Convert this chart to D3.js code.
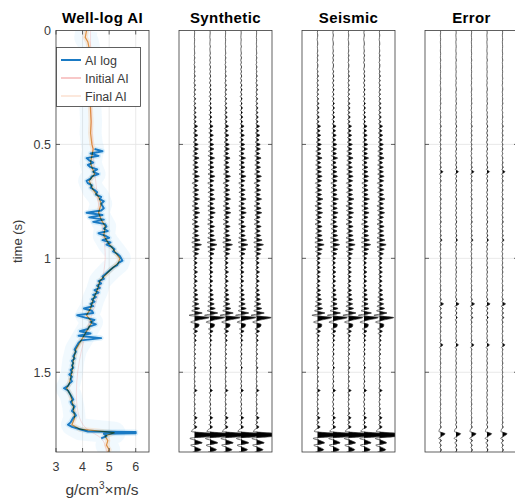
<!DOCTYPE html>
<html>
<head>
<meta charset="utf-8">
<script src="https://cdn.jsdelivr.net/npm/d3@7"></script>
<style>
  body { margin: 0; background: #fff; }
  text { font-family: "Liberation Sans", Arial, sans-serif; }
</style>
</head>
<body>
<div id="vis"></div>
<script>
const panelTitles = ["Well-log AI", "Synthetic", "Seismic", "Error"];
const timeTicks = [0, 0.5, 1, 1.5];
const aiTicks = [3, 4, 5, 6];
const traceOffsets = [1, 2, 3, 4, 5];
const legendLabels = ["AI log", "Initial AI", "Final AI"];
const sampleInterval = 0.01; // s, seismic traces

// well log impedance [time (s), AI]
const aiLog = [
  [0.52, 4.45], [0.53, 4.75], [0.54, 4.3], [0.55, 4.6], [0.56, 4.15], [0.57, 4.25], [0.58, 4.4], [0.59, 4.2],
  [0.60, 4.3], [0.61, 4.55], [0.62, 4.4], [0.63, 4.6], [0.64, 4.35], [0.65, 4.3], [0.66, 4.15], [0.67, 4.2],
  [0.68, 4.35], [0.69, 4.3], [0.70, 4.45], [0.71, 4.55], [0.72, 4.5], [0.73, 4.7], [0.74, 4.65], [0.75, 4.8],
  [0.76, 4.7], [0.77, 4.75], [0.78, 4.8], [0.79, 4.7], [0.80, 4.15], [0.81, 4.75], [0.82, 4.25], [0.83, 4.8],
  [0.84, 4.4], [0.85, 4.85], [0.86, 4.9], [0.87, 4.8], [0.88, 4.95], [0.89, 4.6], [0.90, 4.85], [0.91, 5.0],
  [0.92, 4.75], [0.93, 5.05], [0.94, 4.9], [0.95, 5.1], [0.96, 5.2], [0.97, 5.15], [0.98, 5.3], [0.99, 5.4],
  [1.00, 5.45], [1.01, 5.5], [1.02, 5.35], [1.03, 5.3], [1.04, 5.15], [1.05, 5.05], [1.06, 4.95], [1.07, 4.85],
  [1.08, 4.75], [1.09, 4.8], [1.10, 4.6], [1.11, 4.7], [1.12, 4.55], [1.13, 4.65], [1.14, 4.45], [1.15, 4.6],
  [1.16, 4.4], [1.17, 4.5], [1.18, 4.35], [1.19, 4.45], [1.20, 4.3], [1.21, 4.4], [1.22, 4.05], [1.23, 4.35],
  [1.24, 4.4], [1.25, 3.8], [1.26, 4.1], [1.27, 4.45], [1.28, 4.3], [1.29, 4.5], [1.30, 4.25], [1.31, 4.2],
  [1.32, 3.9], [1.33, 4.3], [1.34, 3.85], [1.35, 4.7], [1.36, 3.95], [1.37, 3.85], [1.38, 3.8], [1.39, 3.75],
  [1.40, 3.7], [1.41, 3.75], [1.42, 3.7], [1.43, 3.65], [1.44, 3.7], [1.45, 3.6], [1.46, 3.65], [1.47, 3.6],
  [1.48, 3.65], [1.49, 3.55], [1.50, 3.6], [1.51, 3.5], [1.52, 3.6], [1.53, 3.55], [1.54, 3.6], [1.55, 3.5],
  [1.56, 3.45], [1.57, 3.3], [1.58, 3.45], [1.59, 3.5], [1.60, 3.55], [1.61, 3.6], [1.62, 3.65], [1.63, 3.55],
  [1.64, 3.6], [1.65, 3.7], [1.66, 3.65], [1.67, 3.6], [1.68, 3.7], [1.69, 3.75], [1.70, 3.65], [1.71, 3.6],
  [1.72, 3.55], [1.73, 3.45], [1.74, 3.6], [1.75, 3.9], [1.76, 4.2], [1.762, 6.0], [1.768, 6.0], [1.77, 4.8],
  [1.78, 4.9], [1.79, 4.7]
];

const initialAI = [
  [0.0, 4.3], [0.25, 4.3], [0.5, 4.35], [0.8, 4.6], [1.0, 5.0], [1.2, 4.5], [1.4, 3.9],
  [1.6, 3.7], [1.75, 3.9], [1.78, 4.8], [1.85, 4.9]
];

const finalAI = [
  [0.0, 4.15], [0.03, 4.1], [0.05, 4.2], [0.08, 4.25], [0.10, 4.2], [0.15, 4.25], [0.20, 4.3],
  [0.25, 4.3], [0.30, 4.28], [0.35, 4.3], [0.40, 4.32], [0.45, 4.3], [0.50, 4.35], [0.52, 4.4],
  [0.55, 4.35], [0.58, 4.3], [0.60, 4.35], [0.63, 4.45], [0.66, 4.25], [0.70, 4.4], [0.73, 4.6],
  [0.76, 4.7], [0.80, 4.6], [0.83, 4.7], [0.86, 4.85], [0.90, 4.8], [0.93, 4.95], [0.96, 5.15],
  [1.00, 5.4], [1.02, 5.35], [1.05, 5.05], [1.08, 4.8], [1.10, 4.65], [1.14, 4.55], [1.18, 4.4],
  [1.22, 4.3], [1.25, 4.15], [1.28, 4.35], [1.30, 4.25], [1.33, 4.1], [1.36, 3.95], [1.40, 3.75],
  [1.45, 3.65], [1.50, 3.6], [1.55, 3.5], [1.57, 3.4], [1.60, 3.55], [1.65, 3.65], [1.70, 3.7],
  [1.73, 3.6], [1.75, 3.9], [1.765, 5.2], [1.78, 4.85], [1.80, 4.95], [1.82, 4.9], [1.84, 5.0], [1.85, 4.95]
];

// trace amplitudes, one sample every 0.01 s from 0 s (units of trace spacing)
const synthetic = [
  0, 0.01, 0, -0.01, 0.01, 0, -0.01, 0.02, -0.01, 0,
  0.02, -0.02, 0.03, -0.02, 0.02, -0.03, 0.04, -0.02, 0.03, -0.02,
  0.05, -0.03, 0.04, -0.04, 0.06, -0.03, 0.07, -0.04, 0.05, -0.05,
  0.08, -0.04, 0.07, -0.05, 0.1, -0.04, 0.09, -0.06, 0.12, -0.05,
  0.1, -0.05, 0.2, -0.07, 0.15, -0.08, 0.22, -0.06, 0.16, -0.09,
  0.24, -0.08, 0.25, -0.1, 0.2, -0.12, 0.3, -0.09, 0.21, -0.11,
  0.26, -0.1, 0.22, -0.13, 0.32, -0.08, 0.25, -0.15, 0.2, -0.1,
  0.28, -0.12, 0.24, -0.09, 0.33, -0.11, 0.22, -0.15, 0.3, -0.12,
  0.34, -0.1, 0.24, -0.14, 0.2, -0.15, 0.3, -0.1, 0.24, -0.12,
  0.28, -0.15, 0.36, -0.18, 0.45, -0.15, 0.32, -0.12, 0.26, -0.08,
  0.16, -0.06, 0.18, -0.05, 0.14, -0.07, 0.2, -0.05, 0.13, -0.06,
  0.19, -0.05, 0.12, -0.09, 0.18, -0.08, 0.22, -0.1, 0.24, -0.12,
  0.28, -0.15, 0.34, -0.18, 0.5, -0.35, 0.95, 0.3, -0.25, 0.3,
  0.25, -0.1, 0.2, -0.08, 0.1, -0.05, 0.12, -0.03, 0.07, -0.03,
  0.05, -0.03, 0.07, -0.03, 0.05, -0.04, 0.04, -0.03, 0.09, -0.03,
  0.05, -0.02, 0.03, -0.03, 0.04, -0.02, 0.05, -0.04, 0.16, -0.05,
  0.05, -0.03, 0.03, -0.03, 0.05, -0.02, 0.04, -0.03, 0.07, -0.05,
  0.18, -0.05, 0.07, -0.06, 0.17, -0.08, -0.2, 1.3, 1.2, -0.3,
  0.15, 0.5, -0.25, 0.12, 0.42, -0.12
];

const seismic = [
  0.01, -0.01, 0.02, 0, -0.02, 0.01, 0.02, -0.01, 0, 0.02,
  -0.02, 0.04, -0.02, 0.03, -0.03, 0.03, 0.02, -0.03, 0.04, -0.02,
  0.06, -0.03, 0.05, -0.04, 0.05, -0.03, 0.07, -0.04, 0.06, -0.05,
  0.07, -0.04, 0.09, -0.05, 0.1, -0.05, 0.08, -0.06, 0.12, -0.06,
  0.09, -0.06, 0.2, -0.06, 0.17, -0.08, 0.21, -0.07, 0.18, -0.08,
  0.25, -0.09, 0.23, -0.11, 0.22, -0.11, 0.3, -0.1, 0.2, -0.12,
  0.25, -0.11, 0.25, -0.12, 0.3, -0.09, 0.27, -0.14, 0.22, -0.11,
  0.27, -0.13, 0.26, -0.1, 0.35, -0.1, 0.25, -0.16, 0.28, -0.13,
  0.33, -0.11, 0.26, -0.13, 0.22, -0.16, 0.3, -0.11, 0.26, -0.12,
  0.3, -0.16, 0.35, -0.17, 0.43, -0.16, 0.31, -0.13, 0.25, -0.09,
  0.18, -0.07, 0.16, -0.06, 0.16, -0.06, 0.19, -0.06, 0.15, -0.05,
  0.18, -0.06, 0.14, -0.08, 0.2, -0.09, 0.21, -0.11, 0.26, -0.12,
  0.27, -0.16, 0.33, -0.19, 0.48, -0.36, 0.92, 0.32, -0.26, 0.28,
  0.25, -0.11, 0.19, -0.09, 0.12, -0.04, 0.11, -0.04, 0.08, -0.04,
  0.07, -0.03, 0.08, -0.04, 0.04, -0.04, 0.06, -0.03, 0.1, -0.04,
  0.04, -0.03, 0.05, -0.02, 0.06, -0.03, 0.04, -0.05, 0.17, -0.05,
  0.06, -0.02, 0.05, -0.04, 0.04, -0.03, 0.06, -0.03, 0.08, -0.06,
  0.17, -0.06, 0.08, -0.05, 0.18, -0.09, -0.2, 1.3, 1.25, -0.28,
  0.17, 0.46, -0.24, 0.14, 0.4, -0.13
];

const errorTrace = [
  0, 0.01, -0.01, 0, 0.01, -0.01, 0, 0.01, 0, -0.01,
  0.01, 0, -0.01, 0.02, -0.01, 0, 0.01, -0.01, 0.01, 0,
  -0.01, 0.02, -0.01, 0.01, -0.02, 0.01, 0.02, -0.02, 0.01, -0.01,
  0.02, -0.01, 0.03, -0.02, 0.01, -0.03, 0.02, -0.01, 0.03, -0.02,
  0.02, -0.03, 0.05, -0.02, 0.03, -0.03, 0.04, -0.02, 0.03, -0.04,
  0.03, -0.02, 0.04, -0.03, 0.02, -0.04, 0.03, -0.02, 0.04, -0.03,
  0.05, -0.04, 0.16, -0.06, 0.04, -0.03, 0.05, -0.04, 0.03, -0.02,
  0.04, -0.03, 0.03, -0.04, 0.05, -0.02, 0.03, -0.03, 0.04, -0.03,
  0.03, -0.04, 0.04, -0.02, 0.05, -0.04, 0.03, -0.03, 0.04, -0.02,
  0.05, -0.03, 0.1, -0.05, 0.04, -0.03, 0.03, -0.04, 0.02, -0.03,
  0.03, -0.02, 0.02, -0.03, 0.04, -0.02, 0.03, -0.02, 0.02, -0.03,
  0.02, -0.03, 0.03, -0.02, 0.04, -0.03, 0.02, -0.04, 0.05, -0.03,
  0.2, -0.08, 0.05, -0.04, 0.06, -0.05, 0.08, -0.05, 0.04, -0.03,
  0.03, -0.02, 0.03, -0.03, 0.02, -0.02, 0.04, -0.04, 0.16, -0.06,
  0.03, -0.02, 0.02, -0.03, 0.02, -0.02, 0.03, -0.02, 0.02, -0.03,
  0.02, -0.02, 0.03, -0.02, 0.02, -0.03, 0.02, -0.02, 0.03, -0.02,
  0.02, -0.03, 0.02, -0.02, 0.03, -0.02, 0.02, -0.03, 0.02, -0.02,
  0.03, -0.02, 0.04, -0.03, 0.05, -0.06, -0.1, 0.3, 0.1, -0.12,
  0.06, -0.08, 0.05, -0.04, 0.06, -0.03
];

const width = 515, height = 500;
const panelLeft = [56, 179, 302, 425];
const panelW = 93;
const plotTop = 30.5, plotBottom = 452;
const axisColor = "#3a3a3a";
const gridColor = "#e3e3e3";

const svg = d3.select("#vis").append("svg")
  .attr("width", width).attr("height", height);

const y = d3.scaleLinear().domain([0, 1.85]).range([plotTop, plotBottom]);

svg.append("defs").selectAll("clipPath")
  .data(panelLeft)
  .enter().append("clipPath")
  .attr("id", (d, i) => "clip" + i)
  .append("rect")
  .attr("x", d => d).attr("y", plotTop)
  .attr("width", panelW).attr("height", plotBottom - plotTop);

function panelFrame(i) {
  const x0 = panelLeft[i];
  const g = svg.append("g");
  // horizontal grid
  g.selectAll(".hg").data(timeTicks.slice(1)).enter().append("line")
    .attr("x1", x0).attr("x2", x0 + panelW)
    .attr("y1", d => y(d)).attr("y2", d => y(d))
    .attr("stroke", gridColor).attr("stroke-width", 0.8);
  return g;
}

function panelBorder(i) {
  const x0 = panelLeft[i];
  const g = svg.append("g");
  g.selectAll(".tk").data(timeTicks.slice(1)).enter().append("path")
    .attr("d", d => `M${x0},${y(d)}h4M${x0 + panelW},${y(d)}h-4`)
    .attr("stroke", axisColor).attr("stroke-width", 0.8);
  g.append("rect")
    .attr("x", x0).attr("y", plotTop)
    .attr("width", panelW).attr("height", plotBottom - plotTop)
    .attr("fill", "none").attr("stroke", axisColor).attr("stroke-width", 0.8);
  svg.append("text")
    .attr("x", x0 + panelW / 2).attr("y", 23)
    .attr("text-anchor", "middle")
    .attr("font-size", 15).attr("font-weight", "bold").attr("fill", "#000")
    .attr("letter-spacing", 0.4)
    .text(panelTitles[i]);
}

// ---- panel 1: well log
const xAI = d3.scaleLinear().domain([3, 6.5]).range([panelLeft[0], panelLeft[0] + panelW]);
const g1 = panelFrame(0);
g1.selectAll(".vg").data(aiTicks.slice(1)).enter().append("line")
  .attr("x1", d => xAI(d)).attr("x2", d => xAI(d))
  .attr("y1", plotTop).attr("y2", plotBottom)
  .attr("stroke", gridColor).attr("stroke-width", 0.8);

const logLine = d3.line().x(d => xAI(d[1])).y(d => y(d[0]));
const clipped = svg.append("g").attr("clip-path", "url(#clip0)");

clipped.append("path").datum(finalAI)
  .attr("d", logLine).attr("fill", "none")
  .attr("stroke", "#8fd0f8").attr("stroke-opacity", 0.12)
  .attr("stroke-width", 22).attr("stroke-linejoin", "round");
clipped.append("path").datum(finalAI)
  .attr("d", logLine).attr("fill", "none")
  .attr("stroke", "#f7c79a").attr("stroke-opacity", 0.35)
  .attr("stroke-width", 5).attr("stroke-linejoin", "round");
clipped.append("path").datum(aiLog)
  .attr("d", logLine).attr("fill", "none")
  .attr("stroke", "#4db3f0").attr("stroke-opacity", 0.18)
  .attr("stroke-width", 5).attr("stroke-linejoin", "round");
clipped.append("path").datum(initialAI)
  .attr("d", d3.line().x(d => xAI(d[1])).y(d => y(d[0])).curve(d3.curveBasis))
  .attr("fill", "none").attr("stroke", "#f08080").attr("stroke-opacity", 0.25)
  .attr("stroke-width", 1);
clipped.append("path").datum(aiLog)
  .attr("d", logLine).attr("fill", "none")
  .attr("stroke", "#1a7ac4").attr("stroke-width", 1.9).attr("stroke-linejoin", "round");
clipped.append("path").datum(finalAI)
  .attr("d", logLine).attr("fill", "none")
  .attr("stroke", "#e8a050").attr("stroke-width", 1.2)
  .style("mix-blend-mode", "multiply");

panelBorder(0);
// top/bottom x ticks
svg.append("g").selectAll("path").data(aiTicks).enter().append("path")
  .attr("d", d => `M${xAI(d)},${plotTop}v4M${xAI(d)},${plotBottom}v-4`)
  .attr("stroke", axisColor).attr("stroke-width", 0.8);

svg.append("g").selectAll("text").data(aiTicks).enter().append("text")
  .attr("x", d => xAI(d)).attr("y", 471)
  .attr("text-anchor", "middle").attr("font-size", 12.5).attr("fill", axisColor)
  .text(d => d);

svg.append("g").selectAll("text").data(timeTicks).enter().append("text")
  .attr("x", 51).attr("y", d => y(d) + 4.5)
  .attr("text-anchor", "end").attr("font-size", 12.5).attr("fill", axisColor)
  .text(d => d);

svg.append("text")
  .attr("transform", `translate(22,${(plotTop + plotBottom) / 2}) rotate(-90)`)
  .attr("text-anchor", "middle").attr("font-size", 13).attr("fill", axisColor)
  .text("time (s)");

const unit = svg.append("text")
  .attr("x", 102).attr("y", 495)
  .attr("text-anchor", "middle").attr("font-size", 15.5).attr("fill", axisColor);
unit.append("tspan").text("g/cm");
unit.append("tspan").attr("font-size", 10).attr("dy", -6).text("3");
unit.append("tspan").attr("dy", 6).text("×m/s");

// legend
const legend = svg.append("g");
legend.append("rect")
  .attr("x", 56.5).attr("y", 47.5).attr("width", 84).attr("height", 59)
  .attr("fill", "#fff").attr("stroke", axisColor).attr("stroke-width", 0.8);
const legendColors = ["#1a7ac4", "#f4a3a3", "#fad9c4"];
const legendWidths = [2, 1.2, 1.2];
legendLabels.forEach((lab, i) => {
  const ly = 60 + i * 18;
  legend.append("line")
    .attr("x1", 61).attr("x2", 81).attr("y1", ly).attr("y2", ly)
    .attr("stroke", legendColors[i]).attr("stroke-width", legendWidths[i]);
  legend.append("text")
    .attr("x", 85).attr("y", ly + 4.5)
    .attr("font-size", 12.5).attr("fill", axisColor)
    .text(lab);
});

// ---- wiggle panels
const traces = [synthetic, seismic, errorTrace];
traces.forEach((tr, k) => {
  const i = k + 1;
  const xT = d3.scaleLinear().domain([0, 6]).range([panelLeft[i], panelLeft[i] + panelW]);
  panelFrame(i);
  const g = svg.append("g").attr("clip-path", `url(#clip${i})`);
  traceOffsets.forEach(off => {
    const area = d3.area()
      .curve(d3.curveMonotoneY)
      .y((d, j) => y(j * sampleInterval))
      .x0(xT(off))
      .x1(d => xT(off + Math.max(0, d)));
    g.append("path").datum(tr)
      .attr("d", area).attr("fill", "#000");
    const line = d3.line()
      .curve(d3.curveMonotoneY)
      .x(d => xT(off + d))
      .y((d, j) => y(j * sampleInterval));
    g.append("path").datum(tr)
      .attr("d", line).attr("fill", "none")
      .attr("stroke", "#333").attr("stroke-width", 0.7);
  });
  panelBorder(i);
});
</script>
</body>
</html>
